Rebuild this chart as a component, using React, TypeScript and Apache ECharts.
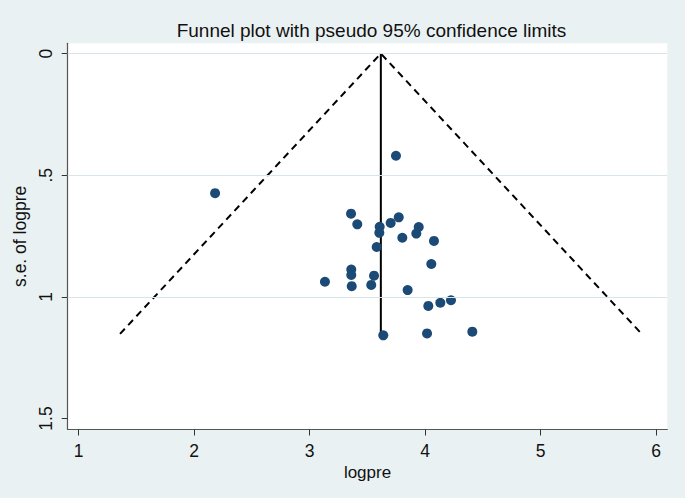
import React, { useEffect, useRef } from "react";
import * as echarts from "echarts";

const xTicks = [1, 2, 3, 4, 5, 6];
const yTicks = [0, 0.5, 1, 1.5];
const yGrid = [0, 0.5, 1];

const logpre = [
  3.747, 3.358, 3.771, 3.412, 3.701, 3.606, 3.944, 3.603, 3.923, 3.802,
  4.076, 3.58, 4.053, 3.36, 3.36, 3.557, 3.132, 3.364, 3.533, 3.848,
  4.027, 4.131, 4.223, 3.637, 4.016, 4.408, 2.181,
];
const seLogpre = [
  0.42, 0.658, 0.673, 0.702, 0.696, 0.712, 0.713, 0.737, 0.74, 0.757,
  0.77, 0.795, 0.865, 0.888, 0.91, 0.913, 0.938, 0.956, 0.951, 0.972,
  1.037, 1.024, 1.014, 1.158, 1.15, 1.143, 0.574,
];
const pooled = 3.616;
const seMax = 1.152;

export default function App() {
  const ref = useRef<HTMLDivElement>(null);
  useEffect(() => {
    if (!ref.current) return;
    const chart = echarts.init(ref.current, undefined, { renderer: "svg" });
    const font = "'Liberation Sans', Arial, Helvetica, sans-serif";
    const lo = pooled - 1.96 * seMax;
    const hi = pooled + 1.96 * seMax;
    chart.setOption({
      animation: false,
      backgroundColor: "#eaf1f3",
      textStyle: { fontFamily: font },
      title: {
        text: "Funnel plot with pseudo 95% confidence limits",
        left: 366.5,
        textAlign: "center",
        top: 16,
        textStyle: { fontFamily: font, fontSize: 19, fontWeight: "normal", color: "#111" },
      },
      grid: {
        left: 67.7,
        right: 17.7,
        top: 43.3,
        bottom: 68.5,
        show: true,
        backgroundColor: "#ffffff",
        borderWidth: 0,
      },
      xAxis: {
        type: "value",
        min: 0.905,
        max: 6.096,
        name: "logpre",
        nameLocation: "middle",
        nameGap: 30,
        nameTextStyle: { fontSize: 17, color: "#111", fontFamily: font },
        axisLine: { show: true, onZero: false, lineStyle: { color: "#555", width: 1.2 } },
        axisTick: { show: true, length: 6, customValues: xTicks, lineStyle: { color: "#333" } },
        axisLabel: { customValues: xTicks, fontSize: 17.5, color: "#111", margin: 12, fontFamily: font },
        splitLine: { show: false },
      },
      yAxis: {
        type: "value",
        inverse: true,
        min: -0.042,
        max: 1.545,
        name: "s.e. of logpre",
        nameLocation: "middle",
        nameGap: 39,
        nameTextStyle: { fontSize: 17.5, color: "#111", fontFamily: font },
        axisLine: { show: true, onZero: false, lineStyle: { color: "#555", width: 1.2 } },
        axisTick: { show: true, length: 6, customValues: yTicks, lineStyle: { color: "#333" } },
        axisLabel: {
          customValues: yTicks,
          rotate: 90,
          fontSize: 17.5,
          color: "#111",
          margin: 12.5,
          fontFamily: font,
          formatter: (v: number) => (v === 0 ? "0" : String(v).replace(/^0/, "")),
        },
        splitLine: { show: false },
      },
      series: [
        {
          type: "line",
          data: [],
          silent: true,
          markLine: {
            silent: true,
            symbol: "none",
            label: { show: false },
            lineStyle: { color: "#d8e6eb", width: 1, type: "solid" },
            data: yGrid.map((v) => ({ yAxis: v })),
          },
          z: 1,
        },
        {
          type: "line",
          data: [[lo, seMax], [pooled, 0], [hi, seMax]],
          showSymbol: false,
          symbol: "none",
          lineStyle: { color: "#000", width: 2, type: [7, 5] },
          z: 2,
        },
        {
          type: "line",
          data: [[pooled, 0], [pooled, seMax]],
          showSymbol: false,
          symbol: "none",
          lineStyle: { color: "#000", width: 2, type: "solid" },
          z: 2,
        },
        {
          type: "scatter",
          data: logpre.map((x, i) => [x, seLogpre[i]]),
          symbol: "circle",
          symbolSize: 10,
          itemStyle: { color: "#1c4a76", opacity: 1 },
          z: 3,
        },
      ],
    });
    return () => chart.dispose();
  }, []);
  return (
    <div
      ref={ref}
      style={{ position: "fixed", left: 0, top: 0, width: 685, height: 498 }}
    />
  );
}
